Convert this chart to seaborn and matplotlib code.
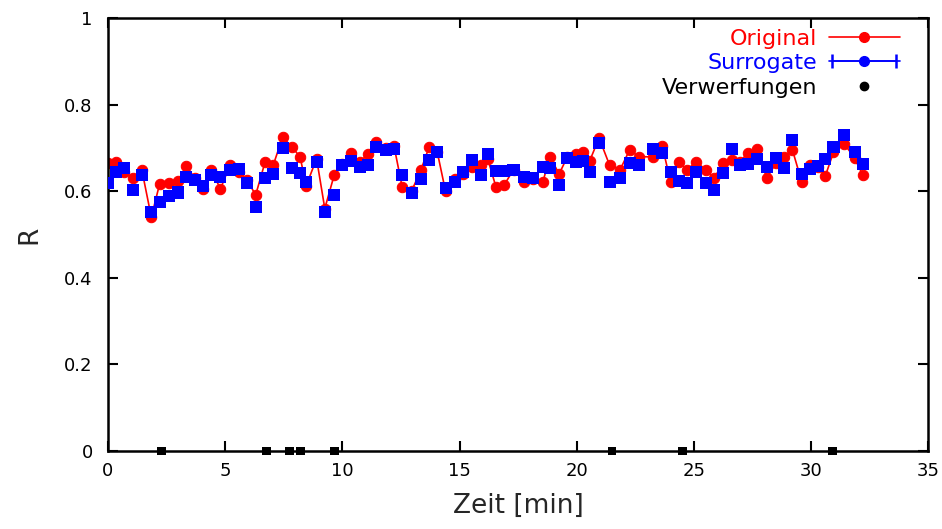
import numpy as np
import pandas as pd
import matplotlib.pyplot as plt
import seaborn as sns
from matplotlib.lines import Line2D
from matplotlib.legend_handler import HandlerErrorbar

# Zeitpunkte der Fenster [min]
zeit = [0.0, 0.35, 0.7, 1.05, 1.45, 1.85, 2.2, 2.6, 3.0, 3.35,
        3.7, 4.05, 4.4, 4.8, 5.2, 5.6, 5.95, 6.3, 6.7, 7.05,
        7.45, 7.85, 8.2, 8.45, 8.9, 9.25, 9.65, 10.0, 10.35, 10.75,
        11.1, 11.45, 11.85, 12.2, 12.55, 12.95, 13.35, 13.7, 14.05, 14.4,
        14.8, 15.15, 15.55, 15.9, 16.2, 16.55, 16.9, 17.3, 17.75, 18.15,
        18.55, 18.85, 19.25, 19.6, 19.95, 20.25, 20.55, 20.95, 21.4, 21.85,
        22.25, 22.65, 23.25, 23.65, 24.0, 24.35, 24.7, 25.1, 25.5, 25.85,
        26.25, 26.6, 26.95, 27.3, 27.7, 28.1, 28.5, 28.85, 29.2, 29.6,
        29.95, 30.3, 30.6, 30.95, 31.4, 31.85, 32.2]

original = [0.665, 0.668, 0.645, 0.630, 0.648, 0.540, 0.616, 0.620, 0.623, 0.658,
            0.630, 0.605, 0.650, 0.605, 0.660, 0.645, 0.625, 0.591, 0.667, 0.660,
            0.725, 0.702, 0.679, 0.612, 0.675, 0.560, 0.637, 0.662, 0.688, 0.668,
            0.686, 0.714, 0.700, 0.705, 0.610, 0.600, 0.649, 0.702, 0.690, 0.600,
            0.628, 0.640, 0.656, 0.660, 0.675, 0.610, 0.614, 0.650, 0.622, 0.628,
            0.621, 0.679, 0.640, 0.680, 0.685, 0.690, 0.670, 0.723, 0.660, 0.650,
            0.695, 0.680, 0.679, 0.704, 0.621, 0.667, 0.650, 0.667, 0.650, 0.630,
            0.665, 0.672, 0.668, 0.688, 0.698, 0.630, 0.665, 0.680, 0.695, 0.621,
            0.660, 0.655, 0.635, 0.690, 0.710, 0.677, 0.637]

surrogate = [0.620, 0.645, 0.653, 0.602, 0.637, 0.552, 0.576, 0.589, 0.597, 0.633,
             0.625, 0.613, 0.637, 0.633, 0.649, 0.651, 0.619, 0.563, 0.630, 0.640,
             0.700, 0.654, 0.642, 0.621, 0.667, 0.552, 0.591, 0.660, 0.670, 0.656,
             0.660, 0.702, 0.695, 0.698, 0.637, 0.596, 0.628, 0.672, 0.690, 0.607,
             0.621, 0.644, 0.672, 0.637, 0.686, 0.647, 0.647, 0.649, 0.633, 0.630,
             0.656, 0.654, 0.614, 0.677, 0.667, 0.670, 0.644, 0.711, 0.621, 0.630,
             0.665, 0.660, 0.698, 0.688, 0.644, 0.623, 0.619, 0.644, 0.619, 0.603,
             0.642, 0.698, 0.660, 0.663, 0.674, 0.656, 0.677, 0.654, 0.718, 0.640,
             0.651, 0.658, 0.674, 0.702, 0.730, 0.690, 0.663]

# Verwerfungen (auf R = 0 markiert)
verwerfungen_zeit = [2.3, 6.75, 7.75, 8.2, 9.65, 21.5, 24.5, 30.9]
verwerfungen_r = [0, 0, 0, 0, 0, 0, 0, 0]

sns.set_style("ticks")
plt.rcParams['font.family'] = ['DejaVu Sans']

fig = plt.figure(figsize=(9.42, 5.29), dpi=100)
ax = fig.add_axes([0.1146, 0.1474, 0.871, 0.8186])

df = pd.DataFrame({'zeit': zeit, 'original': original, 'surrogate': surrogate})
df_v = pd.DataFrame({'zeit': verwerfungen_zeit, 'r': verwerfungen_r})

sns.lineplot(data=df, x='zeit', y='original', ax=ax, color='red', lw=1.2,
             marker='o', markersize=7.5, markeredgecolor='red', zorder=2)
sns.scatterplot(data=df, x='zeit', y='surrogate', ax=ax, color='blue',
                marker='s', s=75, edgecolor='none', zorder=3)
sns.scatterplot(data=df_v, x='zeit', y='r', ax=ax, color='black',
                marker='s', s=40, edgecolor='none', zorder=5, clip_on=False)

ax.set_xlim(0, 35)
ax.set_ylim(0, 1)
ax.set_xticks([0, 5, 10, 15, 20, 25, 30, 35])
ax.set_yticks([0, 0.2, 0.4, 0.6, 0.8, 1])
ax.set_yticklabels(['0', '0.2', '0.4', '0.6', '0.8', '1'])
ax.tick_params(direction='in', length=7, width=1.5, top=True, right=True,
               labelsize=13, colors='black')
ax.tick_params(axis='y', pad=11)
ax.tick_params(axis='x', pad=8)
for sp in ax.spines.values():
    sp.set_linewidth(1.8)
    sp.set_color('black')
    sp.set_visible(True)

ax.set_xlabel('Zeit [min]', fontsize=19, labelpad=9)
ax.set_ylabel('R', fontsize=19, labelpad=16)

# legend im gnuplot-Stil
h1 = Line2D([], [], color='red', marker='o', markersize=7, lw=1.2)
h2 = ax.errorbar([np.nan], [np.nan], xerr=[1], color='blue', marker='o',
                 markersize=7, lw=1.2, capsize=5, capthick=1.8)
h3 = Line2D([], [], color='black', marker='o', markersize=6, ls='none')
leg = ax.legend([h1, h2, h3], ['Original', 'Surrogate', 'Verwerfungen'],
                loc='upper right', bbox_to_anchor=(0.965, 0.975),
                markerfirst=False, frameon=False, fontsize=16,
                handlelength=3.2, handletextpad=0.5, labelspacing=0.2,
                borderpad=0, borderaxespad=0,
                handler_map={h2: HandlerErrorbar(xerr_size=1.45)})
for txt, col in zip(leg.get_texts(), ['red', 'blue', 'black']):
    txt.set_color(col)

fig.savefig('out.png', dpi=100)
